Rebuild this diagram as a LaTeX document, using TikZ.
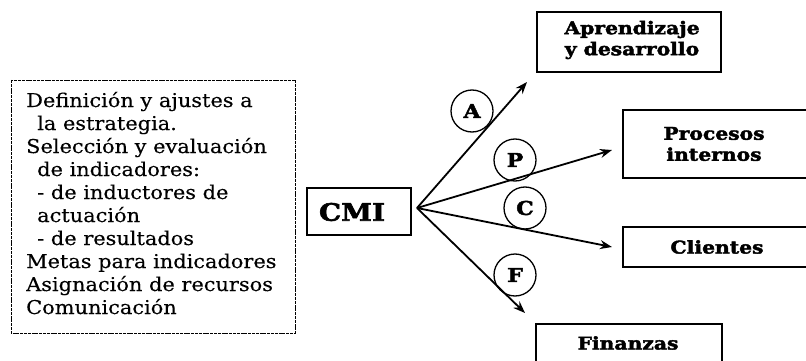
\documentclass[tikz,border=0pt]{standalone}
\usepackage{fontspec}
\setmainfont{DejaVu Serif}[FakeStretch=1.1, FakeBold=0.3]
\newfontfamily\heavyfont{DejaVu Serif}[FakeStretch=1.16, BoldFeatures={FakeBold=2.4}]
\usetikzlibrary{arrows.meta}
\begin{document}
\begin{tikzpicture}[x=1pt,y=-1pt,
  ltxt/.style={anchor=base west, inner sep=0pt, font=\fontsize{19}{23}\selectfont},
  frame/.style={line width=1.4pt},
  heavy/.style={font=\fontsize{17.5}{21}\selectfont\heavyfont\bfseries, align=center},
  letter/.style={draw, circle, line width=1.3pt, minimum size=42pt, inner sep=0pt,
                 font=\fontsize{19}{22}\selectfont\heavyfont\bfseries},
  ray/.style={line width=1.8pt, -{Stealth[length=12pt,width=9pt]}}]
\useasboundingbox (0,0) rectangle (806,361);

% framed list of tasks
\draw[line width=0.7pt, dash pattern=on 3pt off 0.8pt] (11,80) rectangle (295,333);
\node[ltxt] (l1)  at (26,107) {Definición y ajustes a};
\node[ltxt] (l2)  at (37,130) {la estrategia.};
\node[ltxt] (l3)  at (26,153) {Selección y evaluación};
\node[ltxt] (l4)  at (37,176) {de indicadores:};
\node[ltxt] (l5)  at (37,199) {- de inductores de};
\node[ltxt] (l6)  at (37,222) {actuación};
\node[ltxt] (l7)  at (37,245) {- de resultados};
\node[ltxt] (l8)  at (26,268) {Metas para indicadores};
\node[ltxt] (l9)  at (26,291) {Asignación de recursos};
\node[ltxt] (l10) at (26,314) {Comunicación};

% central box
\draw[frame] (307,188) rectangle (411,235);
\node[font=\fontsize{24}{28}\selectfont\heavyfont\bfseries] (cmi) at (352,212) {CMI};
\coordinate (o) at (417,208);

% perspective boxes
\draw[frame] (537,12) rectangle (721,72);
\node[heavy] (ap) at (632,40) {Aprendizaje\\y desarrollo};
\draw[frame] (623,110) rectangle (810,178);
\node[heavy] (pi) at (714,144) {Procesos\\internos};
\draw[frame] (623,227) rectangle (810,267);
\node[heavy] (cl) at (717,247) {Clientes};
\draw[frame] (536,324) rectangle (722,380);
\node[heavy] (fi) at (628,343) {Finanzas};

% arrows fanning out from the central box
\coordinate (ea) at (527,82);
\coordinate (ep) at (612,150);
\coordinate (ec) at (612,247);
\coordinate (ef) at (525,313);
\draw[ray] (o) -- (ea);
\draw[ray] (o) -- (ep);
\draw[ray] (o) -- (ec);
\draw[ray] (o) -- (ef);

% perspective letters
\node[letter] (ca) at (472,111) {A};
\node[letter] (cp) at (515,160) {P};
\node[letter] (cc) at (525,208) {C};
\node[letter] (cf) at (515,275) {F};
\end{tikzpicture}
\end{document}
